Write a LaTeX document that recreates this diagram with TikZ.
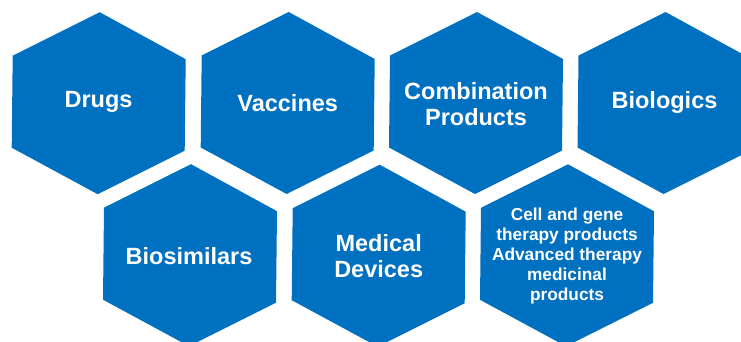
\documentclass[tikz,border=0pt]{standalone}
\usepackage{fontspec}
\setmainfont{Liberation Sans}
\definecolor{hexblue}{RGB}{0,112,192}

\begin{document}
\begin{tikzpicture}[x=1pt,y=-1pt]

		\tikzset{hexfill/.style={fill=hexblue},
			biglabel/.style={text=white,align=center,font=\bfseries\fontsize{23.5}{26.5}\selectfont},
			smalllabel/.style={text=white,align=center,font=\bfseries\fontsize{17.3}{19.8}\selectfont}}
		\useasboundingbox (0,0) rectangle (741,342);

		% hexagons
		\foreach \x/\y in {98.7/103.2,287.7/103,476/103,664.5/103,190/255.2,378.7/255.7,567/255.3}
			\fill[hexfill] (\x,\y) ++(1,-91) -- ++(86,47) -- ++(-1,91.5) -- ++(-87,43.5) -- ++(-86,-46.5) -- ++(1,-92) -- cycle;

		\node[biglabel] (drugs) at (98.5,102) {Drugs};
		\node[biglabel] (vaccines) at (287.7,103.5) {Vaccines};
		\node[biglabel] (combination) at (476,104) {Combination\\Products};
		\node[biglabel] (biologics) at (664.5,102) {Biologics};

		\node[biglabel] (biosimilars) at (189,256) {Biosimilars};
		\node[biglabel] (devices) at (378.7,256) {Medical\\Devices};
		\node[smalllabel] (cellgene) at (567,256) {Cell and gene\\therapy products\\Advanced therapy\\medicinal\\products};

	\end{tikzpicture}
\end{document}
